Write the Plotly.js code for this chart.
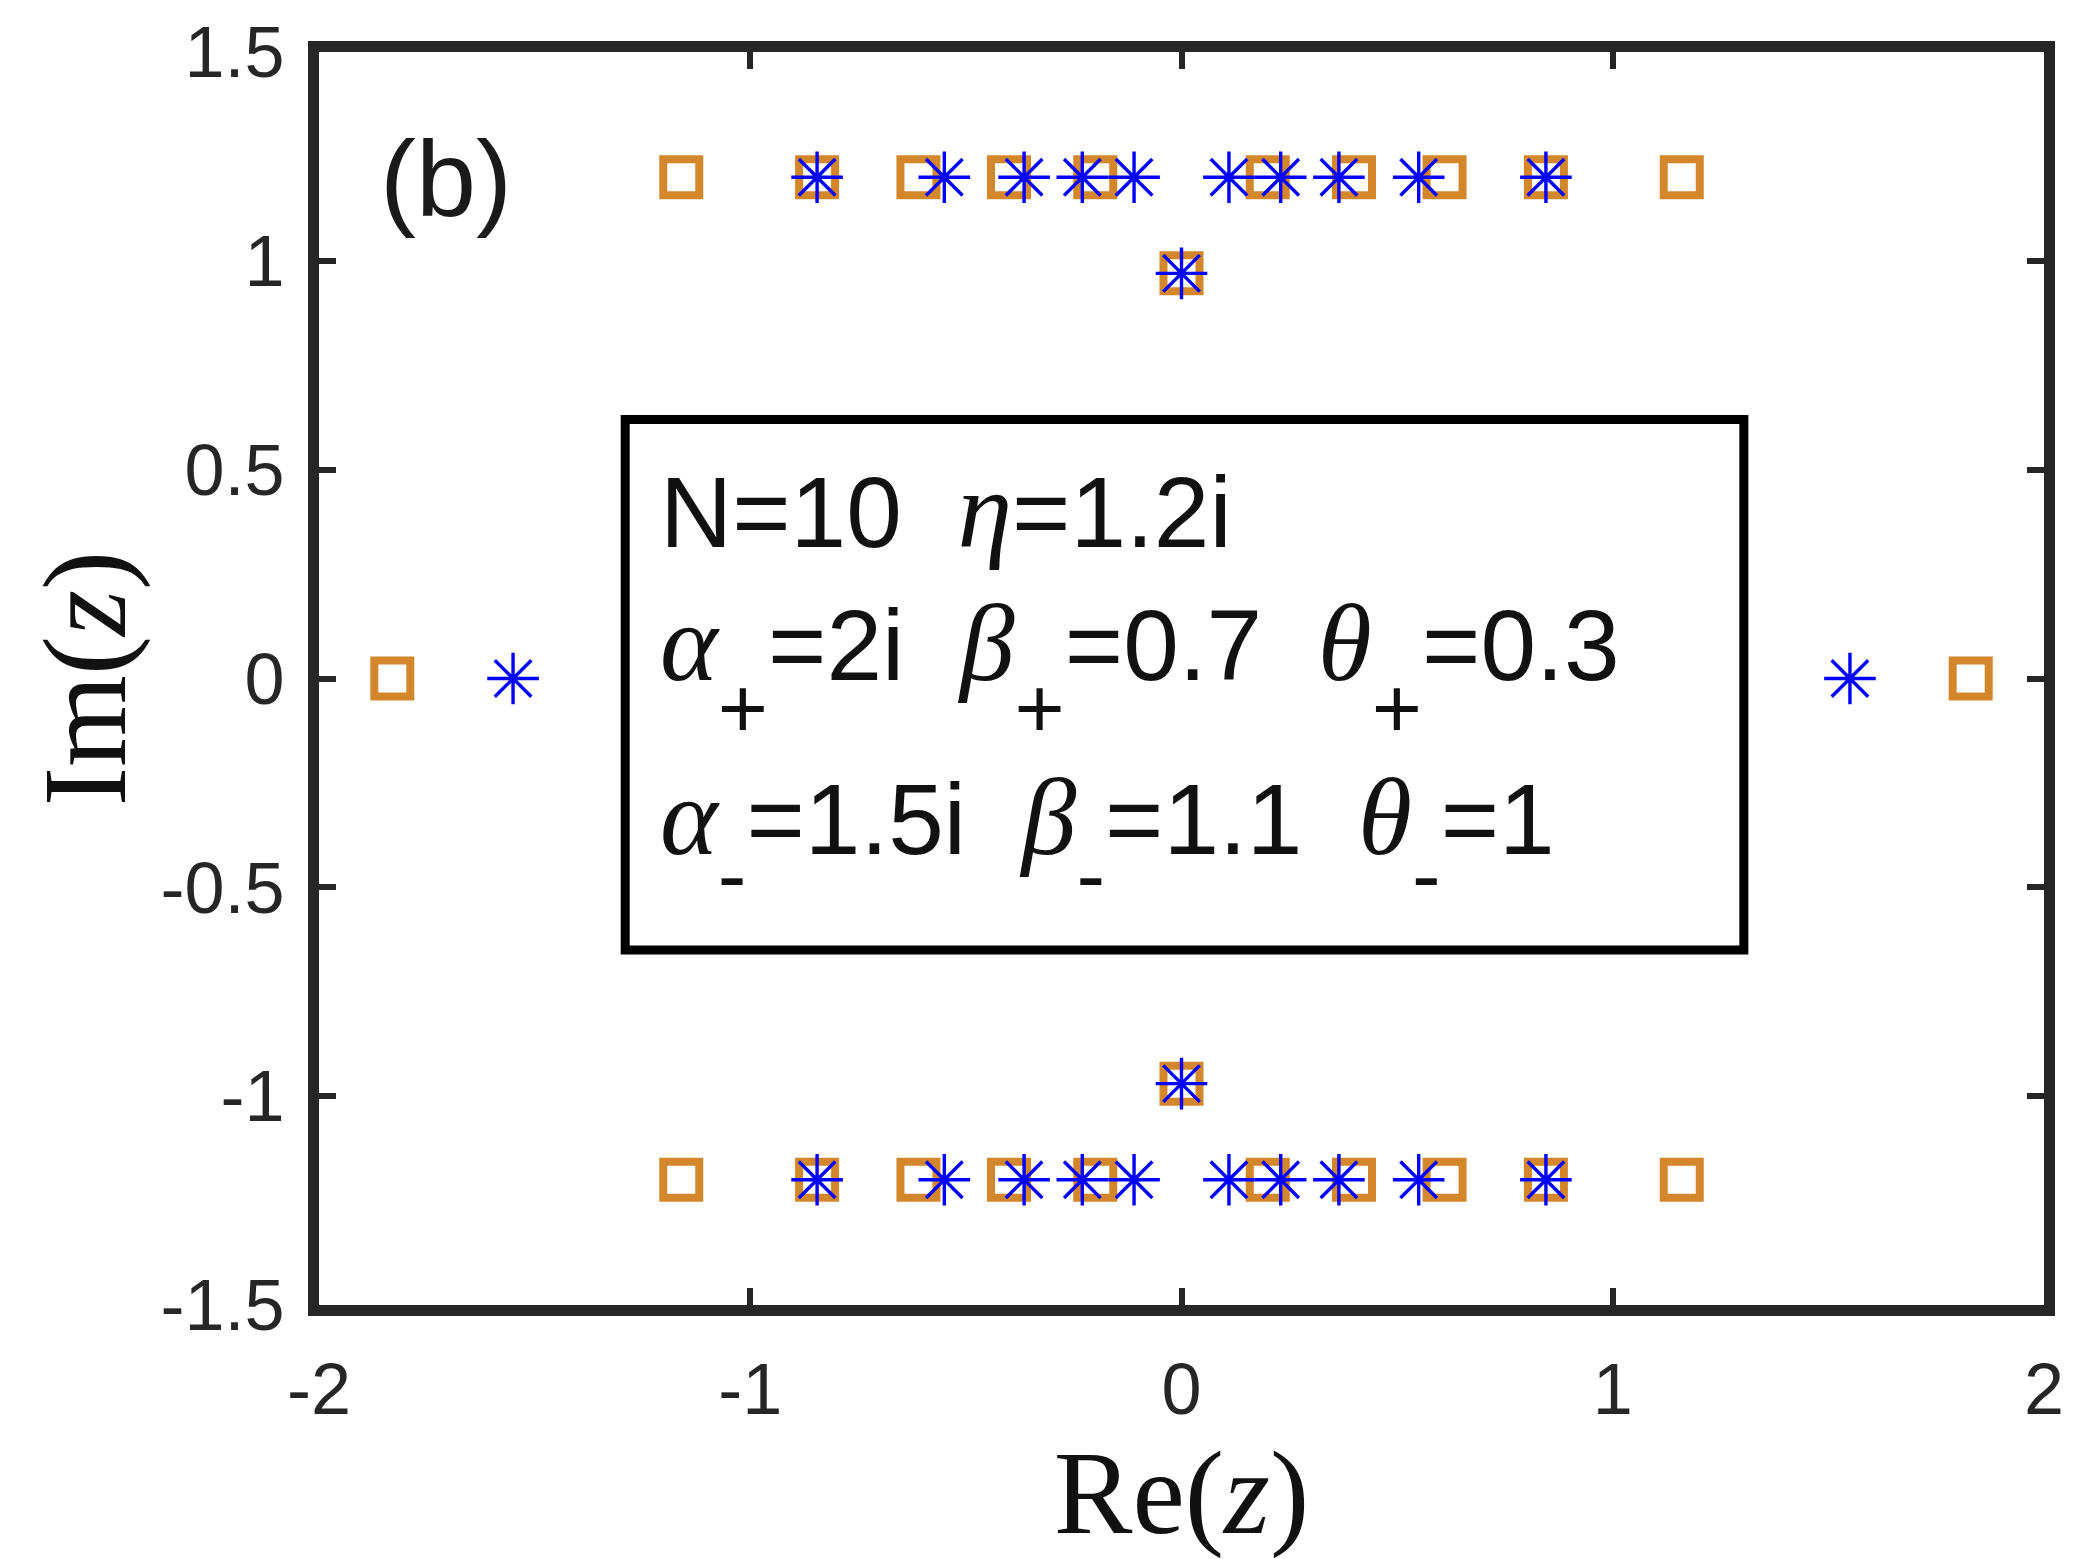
<!DOCTYPE html>
<html>
<head>
<meta charset="utf-8">
<script src="https://cdn.plot.ly/plotly-3.0.1.min.js"></script>
<style>
html, body { margin: 0; padding: 0; background: #ffffff; }
#chart { width: 2079px; height: 1559px; }
</style>
</head>
<body>
<div id="chart"></div>
<script>
// ---- data ----
const squareRe = [-1.16, -0.845, -0.61, -0.40, -0.20, 0.20, 0.40, 0.61, 0.845, 1.16,
                  0, -1.83, 1.83, 0,
                  -1.16, -0.845, -0.61, -0.40, -0.20, 0.20, 0.40, 0.61, 0.845, 1.16];
const squareIm = [1.2, 1.2, 1.2, 1.2, 1.2, 1.2, 1.2, 1.2, 1.2, 1.2,
                  0.97, 0, 0, -0.97,
                  -1.2, -1.2, -1.2, -1.2, -1.2, -1.2, -1.2, -1.2, -1.2, -1.2];
const starRe = [-0.845, -0.55, -0.365, -0.23, -0.11, 0.11, 0.23, 0.365, 0.55, 0.845,
                0, -1.55, 1.55, 0,
                -0.845, -0.55, -0.365, -0.23, -0.11, 0.11, 0.23, 0.365, 0.55, 0.845];
const starIm = [1.2, 1.2, 1.2, 1.2, 1.2, 1.2, 1.2, 1.2, 1.2, 1.2,
                0.97, 0, 0, -0.97,
                -1.2, -1.2, -1.2, -1.2, -1.2, -1.2, -1.2, -1.2, -1.2, -1.2];

const xTickVals = [-2, -1, 0, 1, 2];
const xTickText = ['-2', '-1', '0', '1', '2'];
const yTickVals = [-1.5, -1, -0.5, 0, 0.5, 1, 1.5];
const yTickText = ['-1.5', '-1', '-0.5', '0', '0.5', '1', '1.5'];

const panelLabel = '(b)';
// parameter text: [greek letter, subscript, value]
const line1 = 'N=10';
const line1b = ['η', '=1.2i'];
const line2 = [['α', '+', '=2i'], ['β', '+', '=0.7'], ['θ', '+', '=0.3']];
const line3 = [['α', '-', '=1.5i'], ['β', '-', '=1.1'], ['θ', '-', '=1']];

// ---- styling helpers ----
const SANS = 'Liberation Sans, Arial, Helvetica, sans-serif';
const SERIF = 'Liberation Serif, Times New Roman, serif';
const AX = '#262626';
const SP = '\u00a0\u00a0';

function greek(g) {
  return '<span style="font-family:Liberation Serif;font-size:110px"><i>' + g + '</i></span>';
}
function sub(s, shift) {
  return '<span style="font-size:86px;baseline-shift:-' + shift + 'px">' + s + '</span>';
}
function buildLine(parts, shift) {
  return parts.map(p => greek(p[0]) + sub(p[1], shift) + p[2]).join(SP);
}

const textX = -1.214;
const annFont = { family: SANS, size: 100, color: '#111111' };

const traces = [
  {
    type: 'scatter', mode: 'markers', x: squareRe, y: squareIm,
    marker: { symbol: 'square-open', size: 36, color: '#D4862B', line: { width: 8, color: '#D4862B' } },
    hoverinfo: 'x+y'
  },
  {
    type: 'scatter', mode: 'markers', x: starRe, y: starIm,
    marker: { symbol: 'asterisk-open', size: 43, color: '#0000FF', line: { width: 3.4, color: '#0000FF' } },
    hoverinfo: 'x+y'
  }
];

const axisCommon = {
  showline: true, linewidth: 11, linecolor: AX, mirror: 'allticks',
  ticks: 'inside', ticklen: 17, tickwidth: 6, tickcolor: AX,
  showgrid: false, zeroline: false, fixedrange: true,
  tickfont: { family: SANS, size: 72, color: AX }
};

const layout = {
  width: 2079, height: 1559,
  paper_bgcolor: '#ffffff', plot_bgcolor: '#ffffff',
  showlegend: false,
  margin: { l: 319, r: 35, t: 52, b: 254, pad: 0 },
  xaxis: Object.assign({}, axisCommon, {
    range: [-2, 2], tickmode: 'array', tickvals: xTickVals, ticktext: xTickText,
    ticklabelstandoff: 12,
    title: { text: 'Re(<i>z</i>)', font: { family: SERIF, size: 118, color: '#111111' }, standoff: 0 }
  }),
  yaxis: Object.assign({}, axisCommon, {
    range: [-1.5, 1.5], tickmode: 'array', tickvals: yTickVals, ticktext: yTickText,
    ticklabelstandoff: 9,
    title: { text: 'Im(<i>z</i>)', font: { family: SERIF, size: 118, color: '#111111' }, standoff: 0 }
  }),
  shapes: [
    { type: 'rect', xref: 'x', yref: 'y', x0: -1.29, x1: 1.304, y0: -0.65, y1: 0.62,
      line: { color: '#000000', width: 9 }, fillcolor: 'rgba(0,0,0,0)', layer: 'above' }
  ],
  annotations: [
    { xref: 'x', yref: 'y', x: -1.7055, y: 1.196, xanchor: 'center', yanchor: 'middle',
      text: panelLabel, showarrow: false, font: { family: SANS, size: 108, color: '#1a1a1a' } },
    { xref: 'x', yref: 'y', x: textX, y: 0.554, xanchor: 'left', yanchor: 'top', showarrow: false,
      font: annFont, text: line1 + SP + greek(line1b[0]) + line1b[1] },
    { xref: 'x', yref: 'y', x: textX, y: 0.236, xanchor: 'left', yanchor: 'top', showarrow: false,
      font: annFont, text: buildLine(line2, 58) },
    { xref: 'x', yref: 'y', x: textX, y: -0.181, xanchor: 'left', yanchor: 'top', showarrow: false,
      font: annFont, text: buildLine(line3, 50) }
  ]
};

Plotly.newPlot('chart', traces, layout, { displayModeBar: false, staticPlot: true });
</script>
</body>
</html>
